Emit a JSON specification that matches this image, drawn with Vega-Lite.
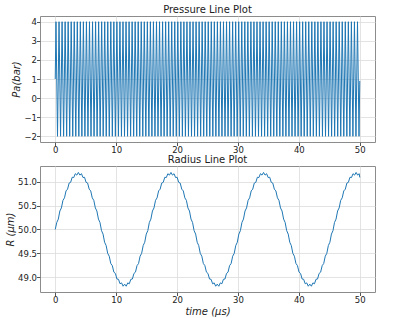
{
"$schema": "https://vega.github.io/schema/vega-lite/v6.json",
"padding": {"left": 5, "top": 4, "right": 27, "bottom": 2},
"spacing": -1,
"config": {
"font": "DejaVu Sans",
"view": {"stroke": "#8c8c8c", "strokeWidth": 1},
"axis": {"domain": false, "grid": true, "gridColor": "#dcdcdc", "gridWidth": 0.8, "tickColor": "#555555", "tickSize": 3.5, "labelFontSize": 8.5, "labelColor": "#222222", "labelPadding": 0, "titleFontSize": 10, "titleFontWeight": "normal", "titleColor": "#222222", "titlePadding": 2},
"title": {"fontSize": 10, "fontWeight": "normal", "offset": 1, "color": "#222222"}
},
"datasets": {
"pressure": [
{"t":0,"p":1},
{"t":0.125,"p":4},{"t":0.375,"p":-2},{"t":0.625,"p":4},{"t":0.875,"p":-2},
{"t":1.125,"p":4},{"t":1.375,"p":-2},{"t":1.625,"p":4},{"t":1.875,"p":-2},
{"t":2.125,"p":4},{"t":2.375,"p":-2},{"t":2.625,"p":4},{"t":2.875,"p":-2},
{"t":3.125,"p":4},{"t":3.375,"p":-2},{"t":3.625,"p":4},{"t":3.875,"p":-2},
{"t":4.125,"p":4},{"t":4.375,"p":-2},{"t":4.625,"p":4},{"t":4.875,"p":-2},
{"t":5.125,"p":4},{"t":5.375,"p":-2},{"t":5.625,"p":4},{"t":5.875,"p":-2},
{"t":6.125,"p":4},{"t":6.375,"p":-2},{"t":6.625,"p":4},{"t":6.875,"p":-2},
{"t":7.125,"p":4},{"t":7.375,"p":-2},{"t":7.625,"p":4},{"t":7.875,"p":-2},
{"t":8.125,"p":4},{"t":8.375,"p":-2},{"t":8.625,"p":4},{"t":8.875,"p":-2},
{"t":9.125,"p":4},{"t":9.375,"p":-2},{"t":9.625,"p":4},{"t":9.875,"p":-2},
{"t":10.125,"p":4},{"t":10.375,"p":-2},{"t":10.625,"p":4},{"t":10.875,"p":-2},
{"t":11.125,"p":4},{"t":11.375,"p":-2},{"t":11.625,"p":4},{"t":11.875,"p":-2},
{"t":12.125,"p":4},{"t":12.375,"p":-2},{"t":12.625,"p":4},{"t":12.875,"p":-2},
{"t":13.125,"p":4},{"t":13.375,"p":-2},{"t":13.625,"p":4},{"t":13.875,"p":-2},
{"t":14.125,"p":4},{"t":14.375,"p":-2},{"t":14.625,"p":4},{"t":14.875,"p":-2},
{"t":15.125,"p":4},{"t":15.375,"p":-2},{"t":15.625,"p":4},{"t":15.875,"p":-2},
{"t":16.125,"p":4},{"t":16.375,"p":-2},{"t":16.625,"p":4},{"t":16.875,"p":-2},
{"t":17.125,"p":4},{"t":17.375,"p":-2},{"t":17.625,"p":4},{"t":17.875,"p":-2},
{"t":18.125,"p":4},{"t":18.375,"p":-2},{"t":18.625,"p":4},{"t":18.875,"p":-2},
{"t":19.125,"p":4},{"t":19.375,"p":-2},{"t":19.625,"p":4},{"t":19.875,"p":-2},
{"t":20.125,"p":4},{"t":20.375,"p":-2},{"t":20.625,"p":4},{"t":20.875,"p":-2},
{"t":21.125,"p":4},{"t":21.375,"p":-2},{"t":21.625,"p":4},{"t":21.875,"p":-2},
{"t":22.125,"p":4},{"t":22.375,"p":-2},{"t":22.625,"p":4},{"t":22.875,"p":-2},
{"t":23.125,"p":4},{"t":23.375,"p":-2},{"t":23.625,"p":4},{"t":23.875,"p":-2},
{"t":24.125,"p":4},{"t":24.375,"p":-2},{"t":24.625,"p":4},{"t":24.875,"p":-2},
{"t":25.125,"p":4},{"t":25.375,"p":-2},{"t":25.625,"p":4},{"t":25.875,"p":-2},
{"t":26.125,"p":4},{"t":26.375,"p":-2},{"t":26.625,"p":4},{"t":26.875,"p":-2},
{"t":27.125,"p":4},{"t":27.375,"p":-2},{"t":27.625,"p":4},{"t":27.875,"p":-2},
{"t":28.125,"p":4},{"t":28.375,"p":-2},{"t":28.625,"p":4},{"t":28.875,"p":-2},
{"t":29.125,"p":4},{"t":29.375,"p":-2},{"t":29.625,"p":4},{"t":29.875,"p":-2},
{"t":30.125,"p":4},{"t":30.375,"p":-2},{"t":30.625,"p":4},{"t":30.875,"p":-2},
{"t":31.125,"p":4},{"t":31.375,"p":-2},{"t":31.625,"p":4},{"t":31.875,"p":-2},
{"t":32.125,"p":4},{"t":32.375,"p":-2},{"t":32.625,"p":4},{"t":32.875,"p":-2},
{"t":33.125,"p":4},{"t":33.375,"p":-2},{"t":33.625,"p":4},{"t":33.875,"p":-2},
{"t":34.125,"p":4},{"t":34.375,"p":-2},{"t":34.625,"p":4},{"t":34.875,"p":-2},
{"t":35.125,"p":4},{"t":35.375,"p":-2},{"t":35.625,"p":4},{"t":35.875,"p":-2},
{"t":36.125,"p":4},{"t":36.375,"p":-2},{"t":36.625,"p":4},{"t":36.875,"p":-2},
{"t":37.125,"p":4},{"t":37.375,"p":-2},{"t":37.625,"p":4},{"t":37.875,"p":-2},
{"t":38.125,"p":4},{"t":38.375,"p":-2},{"t":38.625,"p":4},{"t":38.875,"p":-2},
{"t":39.125,"p":4},{"t":39.375,"p":-2},{"t":39.625,"p":4},{"t":39.875,"p":-2},
{"t":40.125,"p":4},{"t":40.375,"p":-2},{"t":40.625,"p":4},{"t":40.875,"p":-2},
{"t":41.125,"p":4},{"t":41.375,"p":-2},{"t":41.625,"p":4},{"t":41.875,"p":-2},
{"t":42.125,"p":4},{"t":42.375,"p":-2},{"t":42.625,"p":4},{"t":42.875,"p":-2},
{"t":43.125,"p":4},{"t":43.375,"p":-2},{"t":43.625,"p":4},{"t":43.875,"p":-2},
{"t":44.125,"p":4},{"t":44.375,"p":-2},{"t":44.625,"p":4},{"t":44.875,"p":-2},
{"t":45.125,"p":4},{"t":45.375,"p":-2},{"t":45.625,"p":4},{"t":45.875,"p":-2},
{"t":46.125,"p":4},{"t":46.375,"p":-2},{"t":46.625,"p":4},{"t":46.875,"p":-2},
{"t":47.125,"p":4},{"t":47.375,"p":-2},{"t":47.625,"p":4},{"t":47.875,"p":-2},
{"t":48.125,"p":4},{"t":48.375,"p":-2},{"t":48.625,"p":4},{"t":48.875,"p":-2},
{"t":49.125,"p":4},{"t":49.375,"p":-2},{"t":49.625,"p":4},{"t":49.875,"p":-2},
{"t":50,"p":0.9}
],
"radius": [
{"t":0,"r":50.000},{"t":0.253,"r":50.147},{"t":0.507,"r":50.218},{"t":0.76,"r":50.387},{"t":1.013,"r":50.451},{"t":1.267,"r":50.610},{"t":1.52,"r":50.663},{"t":1.773,"r":50.808},{"t":2.027,"r":50.845},{"t":2.28,"r":50.972},
{"t":2.533,"r":50.988},{"t":2.787,"r":51.094},{"t":3.04,"r":51.088},{"t":3.293,"r":51.169},{"t":3.547,"r":51.139},{"t":3.8,"r":51.195},{"t":4.053,"r":51.139},{"t":4.307,"r":51.169},{"t":4.56,"r":51.088},{"t":4.813,"r":51.094},
{"t":5.067,"r":50.988},{"t":5.32,"r":50.972},{"t":5.573,"r":50.845},{"t":5.827,"r":50.808},{"t":6.08,"r":50.663},{"t":6.333,"r":50.610},{"t":6.587,"r":50.451},{"t":6.84,"r":50.387},{"t":7.093,"r":50.218},{"t":7.347,"r":50.147},
{"t":7.6,"r":49.975},{"t":7.853,"r":49.903},{"t":8.107,"r":49.732},{"t":8.36,"r":49.663},{"t":8.613,"r":49.499},{"t":8.867,"r":49.440},{"t":9.12,"r":49.287},{"t":9.373,"r":49.242},{"t":9.627,"r":49.106},{"t":9.88,"r":49.078},
{"t":10.133,"r":48.962},{"t":10.387,"r":48.956},{"t":10.64,"r":48.862},{"t":10.893,"r":48.881},{"t":11.147,"r":48.811},{"t":11.4,"r":48.855},{"t":11.653,"r":48.811},{"t":11.907,"r":48.881},{"t":12.16,"r":48.862},{"t":12.413,"r":48.956},
{"t":12.667,"r":48.962},{"t":12.92,"r":49.078},{"t":13.173,"r":49.106},{"t":13.427,"r":49.242},{"t":13.68,"r":49.287},{"t":13.933,"r":49.440},{"t":14.187,"r":49.499},{"t":14.44,"r":49.663},{"t":14.693,"r":49.732},{"t":14.947,"r":49.903},
{"t":15.2,"r":49.975},{"t":15.453,"r":50.147},{"t":15.707,"r":50.218},{"t":15.96,"r":50.387},{"t":16.213,"r":50.451},{"t":16.467,"r":50.610},{"t":16.72,"r":50.663},{"t":16.973,"r":50.808},{"t":17.227,"r":50.845},{"t":17.48,"r":50.972},
{"t":17.733,"r":50.988},{"t":17.987,"r":51.094},{"t":18.24,"r":51.088},{"t":18.493,"r":51.169},{"t":18.747,"r":51.139},{"t":19.0,"r":51.195},{"t":19.253,"r":51.139},{"t":19.507,"r":51.169},{"t":19.76,"r":51.088},{"t":20.013,"r":51.094},
{"t":20.267,"r":50.988},{"t":20.52,"r":50.972},{"t":20.773,"r":50.845},{"t":21.027,"r":50.808},{"t":21.28,"r":50.663},{"t":21.533,"r":50.610},{"t":21.787,"r":50.451},{"t":22.04,"r":50.387},{"t":22.293,"r":50.218},{"t":22.547,"r":50.147},
{"t":22.8,"r":49.975},{"t":23.053,"r":49.903},{"t":23.307,"r":49.732},{"t":23.56,"r":49.663},{"t":23.813,"r":49.499},{"t":24.067,"r":49.440},{"t":24.32,"r":49.287},{"t":24.573,"r":49.242},{"t":24.827,"r":49.106},{"t":25.08,"r":49.078},
{"t":25.333,"r":48.962},{"t":25.587,"r":48.956},{"t":25.84,"r":48.862},{"t":26.093,"r":48.881},{"t":26.347,"r":48.811},{"t":26.6,"r":48.855},{"t":26.853,"r":48.811},{"t":27.107,"r":48.881},{"t":27.36,"r":48.862},{"t":27.613,"r":48.956},
{"t":27.867,"r":48.962},{"t":28.12,"r":49.078},{"t":28.373,"r":49.106},{"t":28.627,"r":49.242},{"t":28.88,"r":49.287},{"t":29.133,"r":49.440},{"t":29.387,"r":49.499},{"t":29.64,"r":49.663},{"t":29.893,"r":49.732},{"t":30.147,"r":49.903},
{"t":30.4,"r":49.975},{"t":30.653,"r":50.147},{"t":30.907,"r":50.218},{"t":31.16,"r":50.387},{"t":31.413,"r":50.451},{"t":31.667,"r":50.610},{"t":31.92,"r":50.663},{"t":32.173,"r":50.808},{"t":32.427,"r":50.845},{"t":32.68,"r":50.972},
{"t":32.933,"r":50.988},{"t":33.187,"r":51.094},{"t":33.44,"r":51.088},{"t":33.693,"r":51.169},{"t":33.947,"r":51.139},{"t":34.2,"r":51.195},{"t":34.453,"r":51.139},{"t":34.707,"r":51.169},{"t":34.96,"r":51.088},{"t":35.213,"r":51.094},
{"t":35.467,"r":50.988},{"t":35.72,"r":50.972},{"t":35.973,"r":50.845},{"t":36.227,"r":50.808},{"t":36.48,"r":50.663},{"t":36.733,"r":50.610},{"t":36.987,"r":50.451},{"t":37.24,"r":50.387},{"t":37.493,"r":50.218},{"t":37.747,"r":50.147},
{"t":38.0,"r":49.975},{"t":38.253,"r":49.903},{"t":38.507,"r":49.732},{"t":38.76,"r":49.663},{"t":39.013,"r":49.499},{"t":39.267,"r":49.440},{"t":39.52,"r":49.287},{"t":39.773,"r":49.242},{"t":40.027,"r":49.106},{"t":40.28,"r":49.078},
{"t":40.533,"r":48.962},{"t":40.787,"r":48.956},{"t":41.04,"r":48.862},{"t":41.293,"r":48.881},{"t":41.547,"r":48.811},{"t":41.8,"r":48.855},{"t":42.053,"r":48.811},{"t":42.307,"r":48.881},{"t":42.56,"r":48.862},{"t":42.813,"r":48.956},
{"t":43.067,"r":48.962},{"t":43.32,"r":49.078},{"t":43.573,"r":49.106},{"t":43.827,"r":49.242},{"t":44.08,"r":49.287},{"t":44.333,"r":49.440},{"t":44.587,"r":49.499},{"t":44.84,"r":49.663},{"t":45.093,"r":49.732},{"t":45.347,"r":49.903},
{"t":45.6,"r":49.975},{"t":45.853,"r":50.147},{"t":46.107,"r":50.218},{"t":46.36,"r":50.387},{"t":46.613,"r":50.451},{"t":46.867,"r":50.610},{"t":47.12,"r":50.663},{"t":47.373,"r":50.808},{"t":47.627,"r":50.845},{"t":47.88,"r":50.972},
{"t":48.133,"r":50.988},{"t":48.387,"r":51.094},{"t":48.64,"r":51.088},{"t":48.893,"r":51.169},{"t":49.147,"r":51.139},{"t":49.4,"r":51.195},{"t":49.653,"r":51.139},{"t":49.907,"r":51.169},{"t":50,"r":51.09}
]
},
"vconcat": [
{
"title": "Pressure Line Plot",
"width": 335,
"height": 126,
"data": {"name": "pressure"},
"mark": {"type": "line", "color": "#1f77b4", "strokeWidth": 1},
"encoding": {
"x": {"field": "t", "type": "quantitative", "scale": {"domain": [-2.5, 52.5], "nice": false, "zero": false}, "axis": {"values": [0, 10, 20, 30, 40, 50], "title": null}},
"y": {"field": "p", "type": "quantitative", "scale": {"domain": [-2.3, 4.3], "nice": false, "zero": false}, "axis": {"values": [-2, -1, 0, 1, 2, 3, 4], "title": "Pa(bar)", "titleFontStyle": "italic"}}
}
},
{
"title": "Radius Line Plot",
"width": 335,
"height": 126,
"data": {"name": "radius"},
"mark": {"type": "line", "color": "#1f77b4", "strokeWidth": 1},
"encoding": {
"x": {"field": "t", "type": "quantitative", "scale": {"domain": [-2.5, 52.5], "nice": false, "zero": false}, "axis": {"values": [0, 10, 20, 30, 40, 50], "title": "time (μs)", "titleFontStyle": "italic"}},
"y": {"field": "r", "type": "quantitative", "scale": {"domain": [48.69, 51.33], "nice": false, "zero": false}, "axis": {"values": [49.0, 49.5, 50.0, 50.5, 51.0], "format": ".1f", "title": "R (μm)", "titleFontStyle": "italic"}}
}
}
]
}
